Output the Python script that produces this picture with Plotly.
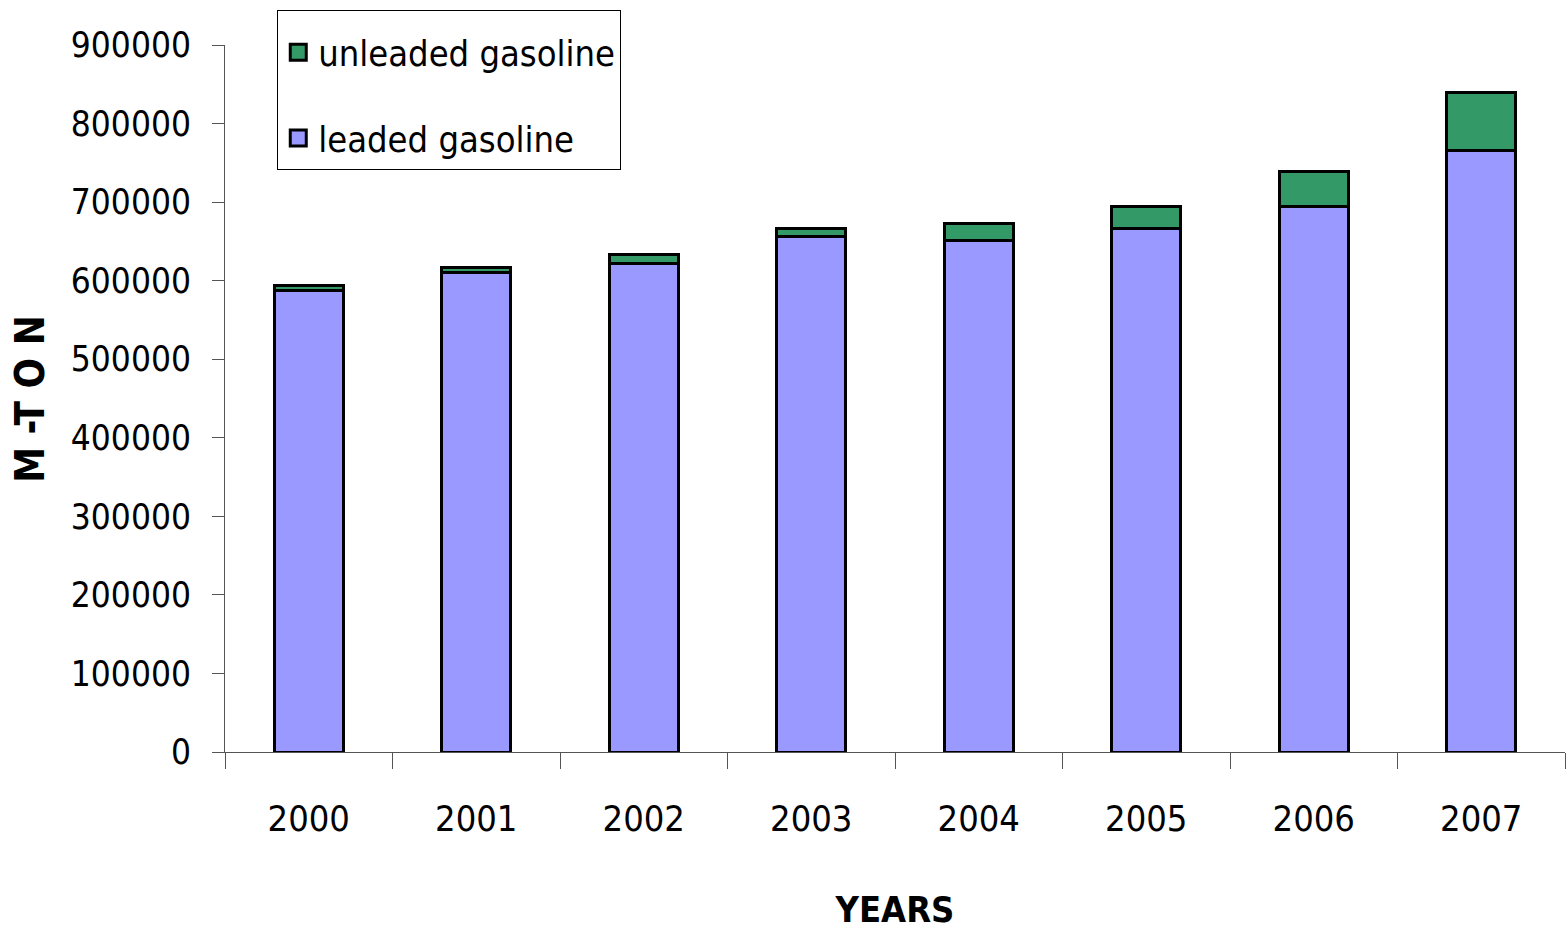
import plotly.graph_objects as go

years = ["2000", "2001", "2002", "2003", "2004", "2005", "2006", "2007"]
leaded = [588000, 610000, 622000, 656000, 651000, 667000, 695000, 766000]
unleaded = [6000, 7000, 11000, 11000, 22000, 28000, 44000, 73000]
y_ticks = [0, 100000, 200000, 300000, 400000, 500000, 600000, 700000, 800000, 900000]

LEADED_COLOR = "#9999FF"
UNLEADED_COLOR = "#339966"
FONT = "Liberation Sans Narrow, Arial Narrow, DejaVu Sans Condensed, sans-serif"

fig = go.Figure()
fig.add_trace(go.Bar(
    x=years, y=leaded, name="leaded gasoline", showlegend=False,
    marker=dict(color=LEADED_COLOR, line=dict(color="black", width=3)),
))
fig.add_trace(go.Bar(
    x=years, y=unleaded, name="unleaded gasoline", showlegend=False,
    marker=dict(color=UNLEADED_COLOR, line=dict(color="black", width=3)),
))

# legend keys: square swatches with a heavy black outline
for name, color, rank in [("unleaded gasoline", UNLEADED_COLOR, 1),
                          ("leaded gasoline", LEADED_COLOR, 2)]:
    fig.add_trace(go.Scatter(
        x=[None], y=[None], mode="markers", name=name,
        legendgroup=name, legendrank=rank,
        marker=dict(symbol="square", size=20, color=color,
                    line=dict(color="black", width=3)),
    ))

fig.update_layout(
    barmode="stack",
    bargap=0.59,
    width=1566, height=933,
    margin=dict(l=225, r=1, t=45, b=181),
    plot_bgcolor="white", paper_bgcolor="white",
    font=dict(family=FONT, size=36, color="black"),
    showlegend=True,
    legend=dict(
        x=0.039, y=1.05, xanchor="left", yanchor="top",
        bordercolor="black", borderwidth=1,
        traceorder="grouped", tracegroupgap=36,
        font=dict(family=FONT, size=36),
        title=dict(text=" ", font=dict(size=9)),
        itemwidth=30,
    ),
    xaxis=dict(
        showline=True, linecolor="#555", linewidth=1,
        ticks="outside", tickson="boundaries", ticklen=16, tickcolor="#555",
        ticklabelstandoff=35,
        tickfont=dict(family=FONT, size=36),
        title=dict(text="<b>YEARS</b>", standoff=58,
                   font=dict(family=FONT, size=36)),
    ),
    yaxis=dict(
        range=[0, 900000], tickvals=y_ticks, ticktext=[str(v) for v in y_ticks],
        showgrid=False, zeroline=False,
        showline=True, linecolor="#555", linewidth=1,
        ticks="outside", ticklen=12, tickcolor="#555",
        ticklabelstandoff=14,
        tickfont=dict(family=FONT, size=35),
    ),
    annotations=[dict(
        text="<b>M -T O N</b>", textangle=-90,
        xref="paper", yref="paper", x=-0.146, y=0.5,
        xanchor="center", yanchor="middle", showarrow=False,
        font=dict(family=FONT, size=40),
    )],
)

fig.write_html("out.html")
